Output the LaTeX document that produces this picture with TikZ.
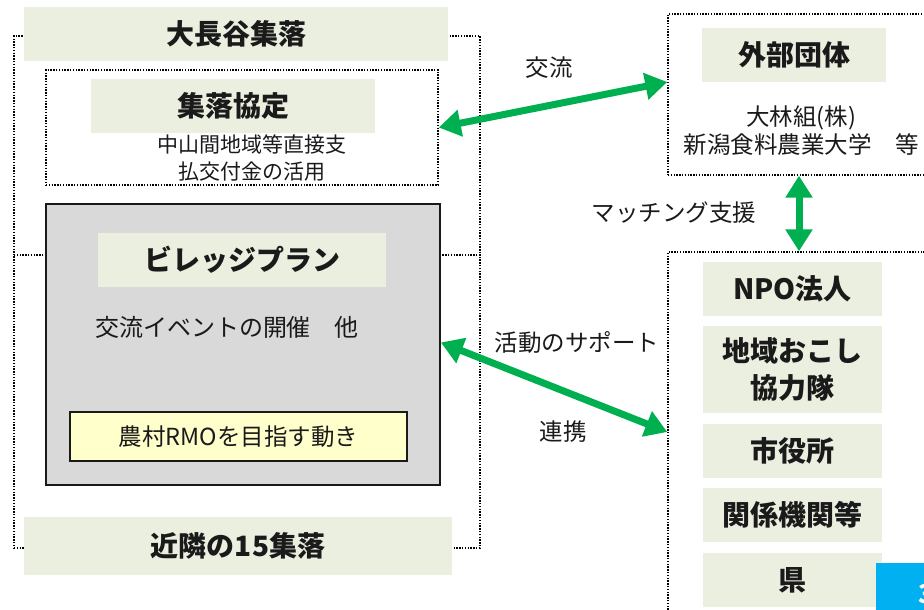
\documentclass[tikz,border=0pt]{standalone}
\usepackage{fontspec}
\setmainfont{Noto Sans CJK JP}
\usetikzlibrary{arrows.meta,calc}
\definecolor{lab}{HTML}{EBEFDF}
\definecolor{grn}{HTML}{00B050}
\definecolor{gry}{HTML}{D9D9D9}
\definecolor{ylw}{HTML}{FFFFCC}
\definecolor{blu}{HTML}{00B0F0}
\definecolor{txt}{HTML}{1A1A1A}
\tikzset{
  dotbox/.style={draw=black, line width=1.4pt, dash pattern=on 1.4pt off 1.4pt, inner sep=0pt},
  lbl/.style={fill=lab, inner sep=0pt, text=txt, font=\fontsize{28}{33}\selectfont\bfseries, align=center},
  norm/.style={text=txt, font=\fontsize{23.5}{27}\selectfont, inner sep=0pt, align=center},
  garrow/.style={draw=grn, line width=7pt, {Triangle[length=22pt,width=26pt]}-{Triangle[length=22pt,width=26pt]}, shorten <=0pt, shorten >=0pt},
}
\begin{document}
\begin{tikzpicture}[x=1pt,y=-1pt]
\useasboundingbox (0,0) rectangle (924,610);
\clip (0,0) rectangle (924,610);
% left outer dotted boxes
\node[dotbox, minimum width=466pt, minimum height=219pt] (outA) at (247,145.5) {};
\node[dotbox, minimum width=466pt, minimum height=293pt] (outB) at (247,401.5) {};
\node[lbl, minimum width=424pt, minimum height=54pt] (t1) at (236,34) {大長谷集落};
% kyotei
\node[dotbox, minimum width=392pt, minimum height=115pt] (kyotei) at (242,127.5) {};
\node[lbl, minimum width=284pt, minimum height=54pt] (kyoteiL) at (233,106) {集落協定};
\node[norm, font=\fontsize{21}{27}\selectfont] (kyoteiT) at (252,158) {中山間地域等直接支\\払交付金の活用};
% village plan
\node[draw=txt, line width=1.8pt, fill=gry, minimum width=394pt, minimum height=281pt, inner sep=0pt] (village) at (243,344.5) {};
\node[lbl, minimum width=288pt, minimum height=54pt] (villageL) at (242,260) {ビレッジプラン};
\node[norm, font=\fontsize{24}{28}\selectfont] (event) at (227,327) {交流イベントの開催　他};
\node[draw=txt, line width=1.4pt, fill=ylw, minimum width=337pt, minimum height=49pt, inner sep=0pt, text=txt, font=\fontsize{23.5}{27}\selectfont] (rmo) at (238.5,436.5) {農村RMOを目指す動き};
% neighbours
\node[lbl, minimum width=428pt, minimum height=58pt] (kinrin) at (238,546) {近隣の15集落};
% external
\node[dotbox, minimum width=272pt, minimum height=161pt] (gaibu) at (804,94.5) {};
\node[lbl, minimum width=184pt, minimum height=54pt] (gaibuL) at (794,55) {外部団体};
\node[norm, font=\fontsize{23.5}{28}\selectfont] (gaibuT) at (801,131) {大林組(株)\\新潟食料農業大学　等};
% lower right
\node[dotbox, minimum width=272pt, minimum height=368pt] (lower) at (804,436) {};
\node[lbl, minimum width=179pt, minimum height=54pt] (npo) at (792.5,289) {NPO法人};
\node[lbl, minimum width=179pt, minimum height=87pt, font=\fontsize{28}{37}\selectfont\bfseries] (chiiki) at (792.5,369.5) {地域おこし\\協力隊};
\node[lbl, minimum width=179pt, minimum height=54pt] (shiyaku) at (792.5,451) {市役所};
\node[lbl, minimum width=179pt, minimum height=54pt] (kankei) at (792.5,515) {関係機関等};
\node[lbl, minimum width=179pt, minimum height=54pt] (ken) at (792.5,580) {県};
\node[fill=blu, minimum width=64pt, minimum height=57pt, inner sep=0pt] (blue) at (908,591.5) {};
\node[text=white, font=\fontsize{26}{30}\selectfont\bfseries, inner sep=0pt] (pnum) at (926,594) {3};
% arrows
\draw[garrow] (kyotei.east) -- ([yshift=12.5pt]gaibu.west);
\draw[garrow] ([xshift=-5pt]gaibu.south) -- ([xshift=-5pt]lower.north);
\draw[garrow] ([yshift=2pt]village.east) -- ([yshift=4pt]lower.west);
% labels
\node[norm] (l1) at (549,68) {交流};
\node[norm] (l2) at (674,213) {マッチング支援};
\node[norm] (l3) at (577,343) {活動のサポート};
\node[norm] (l4) at (563,432) {連携};
\end{tikzpicture}
\end{document}
